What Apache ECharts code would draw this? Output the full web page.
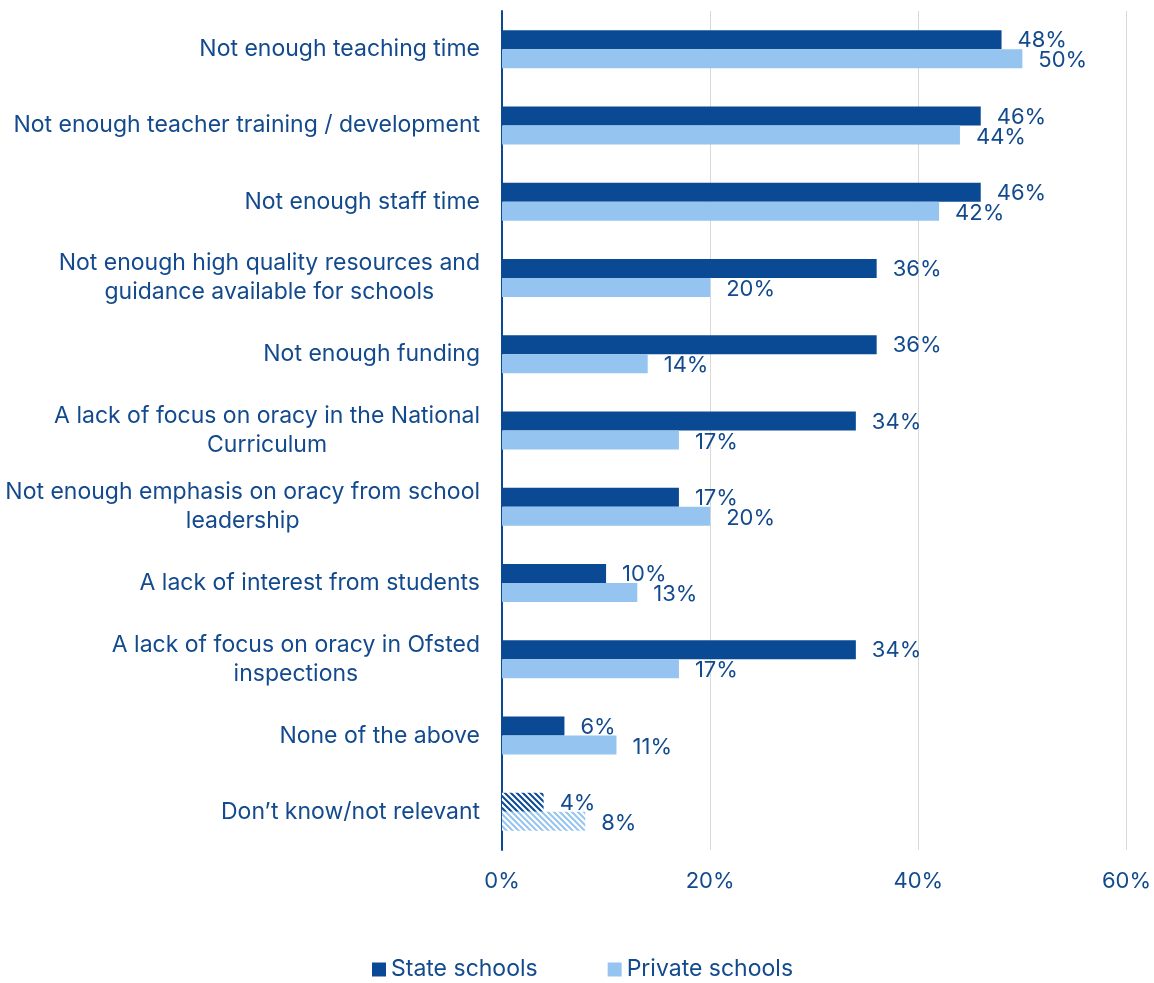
<!DOCTYPE html>
<html>
<head>
<meta charset="utf-8">
<script src="https://cdn.jsdelivr.net/npm/echarts@6/dist/echarts.min.js"></script>
<style>
  html, body { margin: 0; padding: 0; background: #ffffff; }
  #chart { width: 1154px; height: 983px; }
</style>
</head>
<body>
<div id="chart"></div>
<script>
// Barriers to teaching oracy, state vs private schools (% of teachers)
const categories = [
  'Not enough teaching time',
  'Not enough teacher training / development',
  'Not enough staff time',
  'Not enough high quality resources and\nguidance available for schools',
  'Not enough funding',
  'A lack of focus on oracy in the National\nCurriculum',
  'Not enough emphasis on oracy from school\nleadership',
  'A lack of interest from students',
  'A lack of focus on oracy in Ofsted\ninspections',
  'None of the above',
  'Don\u2019t know/not relevant'
];
const stateSchools   = [48, 46, 46, 36, 36, 34, 17, 10, 34, 6, 4];
const privateSchools = [50, 44, 42, 20, 14, 17, 20, 13, 17, 11, 8];
const xTicks = [0, 20, 40, 60];

const DARK = '#0a4a95';
const LIGHT = '#94c4ef';
const TEXT = '#134a8e';
const FONT = 'Inter, "Noto Sans", sans-serif';

// diagonal hatch fill used for the "don't know" answers
function hatch(color) {
  const s = 6;
  const c = document.createElement('canvas');
  c.width = s; c.height = s;
  const g = c.getContext('2d');
  g.fillStyle = '#ffffff';
  g.fillRect(0, 0, s, s);
  g.strokeStyle = color;
  g.lineWidth = 2;
  g.beginPath();
  g.moveTo(-1, -1); g.lineTo(s + 1, s + 1);
  g.moveTo(-1, s - 1); g.lineTo(1, s + 1);
  g.moveTo(s - 1, -1); g.lineTo(s + 1, 1);
  g.stroke();
  return { image: c, repeat: 'repeat' };
}

const lastIdx = categories.length - 1;
function items(values, color) {
  return values.map((v, i) => i === lastIdx
    ? { value: v, itemStyle: { color: hatch(color) } }
    : v);
}

const chart = echarts.init(document.getElementById('chart'), null, { renderer: 'canvas' });

const labelStyle = {
  show: true,
  position: 'right',
  distance: 16,
  color: TEXT,
  fontFamily: FONT,
  fontSize: 22,
  formatter: p => p.value + '%'
};

chart.setOption({
  animation: false,
  textStyle: { fontFamily: FONT },
  grid: { left: 502, right: 26, top: 11, bottom: 133, containLabel: false },
  legend: {
    bottom: -3,
    left: 367,
    itemWidth: 14,
    itemHeight: 14,
    itemGap: 70,
    icon: 'rect',
    textStyle: { color: TEXT, fontFamily: FONT, fontSize: 23 },
    data: ['State schools', 'Private schools']
  },
  xAxis: {
    type: 'value',
    min: xTicks[0],
    max: xTicks[xTicks.length - 1],
    interval: xTicks[1] - xTicks[0],
    axisLine: { show: false },
    axisTick: { show: false },
    splitLine: { show: true, lineStyle: { color: '#d9d9d9', width: 1 } },
    axisLabel: {
      color: TEXT, fontFamily: FONT, fontSize: 22, margin: 20,
      formatter: v => v + '%'
    }
  },
  yAxis: {
    type: 'category',
    inverse: true,
    data: categories,
    axisLine: { show: true, lineStyle: { color: DARK, width: 2 } },
    axisTick: { show: false },
    axisLabel: {
      margin: 22,
      color: TEXT,
      fontFamily: FONT,
      fontSize: 23,
      lineHeight: 29,
      formatter: v => v.split('\n').map(l => '{c|' + l + '}').join('\n'),
      rich: {
        c: { align: 'center', color: TEXT, fontFamily: FONT, fontSize: 23, lineHeight: 29 }
      }
    }
  },
  series: [
    {
      name: 'State schools',
      type: 'bar',
      data: items(stateSchools, DARK),
      itemStyle: { color: DARK },
      barWidth: 19,
      barGap: '0%',
      label: Object.assign({}, labelStyle, { offset: [0, 1] })
    },
    {
      name: 'Private schools',
      type: 'bar',
      data: items(privateSchools, LIGHT),
      itemStyle: { color: LIGHT },
      barWidth: 19,
      barGap: '0%',
      label: Object.assign({}, labelStyle, { offset: [0, 2] })
    }
  ]
});
</script>
</body>
</html>
